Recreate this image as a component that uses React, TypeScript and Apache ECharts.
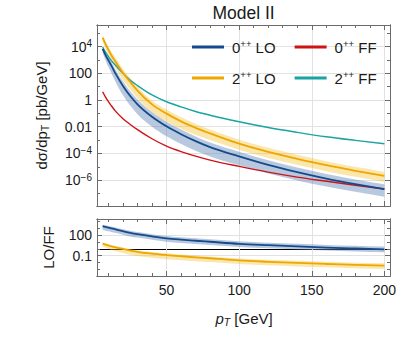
import React, { useEffect, useRef } from 'react';
import * as echarts from 'echarts';

// transverse momentum grid [GeV]
const pT = [6, 8, 10, 12, 15, 20, 25, 30, 40, 50, 60, 70, 80, 100, 120, 140, 160, 180, 200];

// log10 of dσ/dpT [pb/GeV]
const lo0 = [3.82, 3.36, 2.96, 2.57, 1.95, 1.05, 0.3, -0.32, -1.25, -1.97, -2.56, -3.08, -3.53, -4.22, -4.86, -5.4, -5.88, -6.29, -6.66];
const lo0High = [3.97, 3.56, 3.21, 2.85, 2.25, 1.4, 0.65, 0.03, -0.9, -1.62, -2.21, -2.73, -3.18, -3.87, -4.51, -5.05, -5.53, -5.94, -6.31];
const lo0Low = [3.52, 2.96, 2.46, 2.02, 1.33, 0.35, -0.42, -1.06, -2.0, -2.72, -3.29, -3.79, -4.23, -4.89, -5.5, -6.02, -6.48, -6.87, -7.23];
const lo2 = [4.66, 4.18, 3.75, 3.35, 2.85, 2.02, 1.35, 0.7, -0.33, -1.02, -1.6, -2.08, -2.5, -3.27, -3.88, -4.4, -4.88, -5.3, -5.68];
const lo2High = [4.86, 4.4, 4.0, 3.62, 3.15, 2.32, 1.65, 1.0, -0.03, -0.72, -1.3, -1.78, -2.2, -2.97, -3.58, -4.1, -4.58, -5.0, -5.38];
const lo2Low = [4.36, 3.83, 3.35, 2.9, 2.35, 1.47, 0.78, 0.13, -0.9, -1.59, -2.15, -2.6, -3.0, -3.72, -4.33, -4.85, -5.33, -5.75, -6.13];
const ff0 = [0.62, 0.22, -0.13, -0.43, -0.85, -1.4, -1.83, -2.22, -2.9, -3.45, -3.86, -4.2, -4.5, -4.97, -5.4, -5.77, -6.08, -6.38, -6.66];
const ff2 = [3.96, 3.58, 3.25, 2.95, 2.58, 2.0, 1.48, 1.08, 0.38, -0.13, -0.52, -0.86, -1.14, -1.63, -2.06, -2.42, -2.75, -3.02, -3.27];

// log10 of LO/FF
const ratio0 = [3.3, 3.18, 3.07, 2.97, 2.82, 2.55, 2.3, 2.12, 1.8, 1.52, 1.33, 1.17, 1.02, 0.72, 0.52, 0.34, 0.18, 0.05, -0.07];
const ratio0High = [3.5, 3.4, 3.31, 3.23, 3.09, 2.83, 2.6, 2.42, 2.12, 1.85, 1.67, 1.52, 1.37, 1.08, 0.89, 0.72, 0.56, 0.44, 0.32];
const ratio0Low = [2.75, 2.63, 2.53, 2.44, 2.3, 2.05, 1.8, 1.63, 1.32, 1.04, 0.86, 0.71, 0.56, 0.27, 0.07, -0.1, -0.26, -0.38, -0.5];
const ratio2 = [0.74, 0.6, 0.48, 0.36, 0.2, -0.02, -0.25, -0.43, -0.7, -0.9, -1.07, -1.23, -1.37, -1.68, -1.88, -2.05, -2.2, -2.34, -2.45];
const ratio2High = [0.93, 0.8, 0.68, 0.56, 0.4, 0.18, -0.04, -0.21, -0.47, -0.66, -0.82, -0.97, -1.1, -1.4, -1.58, -1.74, -1.88, -2.01, -2.11];
const ratio2Low = [0.31, 0.14, -0.02, -0.16, -0.35, -0.6, -0.85, -1.03, -1.3, -1.5, -1.65, -1.79, -1.92, -2.2, -2.38, -2.55, -2.69, -2.82, -2.93];

// ticks
const xMajor = [50, 100, 150, 200];
const xMinor = [10, 20, 30, 40, 60, 70, 80, 90, 110, 120, 130, 140, 160, 170, 180, 190];
const yTopMajor = [-6, -4, -2, 0, 2, 4];
const yTopMinor = [-7, -5, -3, -1, 1, 3, 5];
const yBotMajor = [-1, 2];
const yBotMinor = [-3, -2, 0, 1, 3, 4];
const ratioOne = [0];
const topTickLabels: Record<string, string> = {
  '4': '{b|10}{s|4}',
  '2': '100',
  '0': '1',
  '-2': '0.01',
  '-4': '{b|10}{s|\u22124}',
  '-6': '{b|10}{s|\u22126}',
};
const botTickLabels: Record<string, string> = { '2': '100', '-1': '0.1' };

const FONT = '"Liberation Sans", Arial, Helvetica, sans-serif';
const TEXT = '#1a1a1a';
const FRAME = '#6b6b6b';
const GRIDC = '#e2e2e2';
const BLUE = '#154b8c';
const ORANGE = '#eea600';
const RED = '#cc1418';
const TEAL = '#1aa3a3';
const BLUE_BAND = 'rgba(98,136,184,0.45)';
const ORANGE_BAND = 'rgba(244,188,36,0.38)';

const X_MIN = 2.12, X_MAX = 203.88;
const TOP_MIN = -7.93, TOP_MAX = 5.61;
const BOT_MIN = -3.94, BOT_MAX = 4.32;

const tickRich = {
  b: { fontSize: 14, fontFamily: FONT, color: TEXT, lineHeight: 16 },
  s: { fontSize: 10, fontFamily: FONT, color: TEXT, lineHeight: 10, verticalAlign: 'top' },
};

function frameAxis(o: any) {
  return {
    type: 'value',
    gridIndex: o.gridIndex,
    position: o.position,
    min: o.min,
    max: o.max,
    axisLine: { show: o.hideLine ? false : true, onZero: false, lineStyle: { color: FRAME, width: 1 } },
    axisTick: { show: o.len > 0, inside: true, length: o.len, customValues: o.ticks, lineStyle: { color: FRAME, width: 1 } },
    axisLabel: o.labelValues
      ? { show: true, customValues: o.labelValues, formatter: o.fmt, margin: o.margin, color: TEXT, fontSize: 14, fontFamily: FONT, rich: tickRich }
      : { show: false },
    splitLine: { show: !!o.split, lineStyle: o.splitStyle || { color: GRIDC, width: 1 } },
    minorTick: { show: false },
    minorSplitLine: { show: false },
  };
}

// cubic Hermite spline through pixel points (x monotone), as SVG path commands
function spline(pts: number[][], cmd: string) {
  const n = pts.length;
  const h: number[] = [];
  const d: number[] = [];
  for (let i = 0; i < n - 1; i++) {
    h.push(pts[i + 1][0] - pts[i][0]);
    d.push((pts[i + 1][1] - pts[i][1]) / h[i]);
  }
  const m: number[] = new Array(n).fill(0);
  for (let i = 1; i < n - 1; i++) {
    m[i] = (h[i] * d[i - 1] + h[i - 1] * d[i]) / (h[i - 1] + h[i]);
  }
  m[0] = 2 * d[0] - m[1];
  if (Math.sign(m[0]) !== Math.sign(d[0])) m[0] = d[0];
  m[n - 1] = 2 * d[n - 2] - m[n - 2];
  if (Math.sign(m[n - 1]) !== Math.sign(d[n - 2])) m[n - 1] = d[n - 2];
  let s = `${cmd}${pts[0][0]},${pts[0][1]}`;
  for (let i = 0; i < n - 1; i++) {
    const k = h[i] / 3;
    const c1x = pts[i][0] + k;
    const c1y = pts[i][1] + m[i] * k;
    const c2x = pts[i + 1][0] - k;
    const c2y = pts[i + 1][1] - m[i + 1] * k;
    s += `C${c1x},${c1y},${c2x},${c2y},${pts[i + 1][0]},${pts[i + 1][1]}`;
  }
  return s;
}

function band(name: string, lo: number[], hi: number[], fill: string, xi: number, yi: number) {
  return {
    type: 'custom',
    name,
    xAxisIndex: xi,
    yAxisIndex: yi,
    silent: true,
    z: 2,
    itemStyle: { color: fill },
    data: pT.map((x, i) => [x, lo[i], hi[i]]),
    encode: { x: 0, y: [1, 2] },
    renderItem: (params: any, api: any) => {
      if (params.dataIndex !== 0) return null;
      const top = pT.map((x, i) => api.coord([x, hi[i]]));
      const bot = pT.map((x, i) => api.coord([x, lo[i]])).reverse();
      return {
        type: 'path',
        shape: { pathData: spline(top, 'M') + spline(bot, 'L') + 'Z' },
        style: { fill, stroke: null },
      };
    },
  };
}

function curve(name: string, vals: number[], color: string, width: number, xi: number, yi: number) {
  return {
    type: 'custom',
    name,
    xAxisIndex: xi,
    yAxisIndex: yi,
    silent: true,
    z: 3,
    itemStyle: { color },
    data: pT.map((x, i) => [x, vals[i]]),
    encode: { x: 0, y: 1 },
    renderItem: (params: any, api: any) => {
      if (params.dataIndex !== 0) return null;
      const pts = pT.map((x, i) => api.coord([x, vals[i]]));
      return {
        type: 'path',
        shape: { pathData: spline(pts, 'M') },
        style: { fill: null, stroke: color, lineWidth: width, lineJoin: 'round', lineCap: 'butt' },
      };
    },
  };
}

const legendFmt = (name: string) => {
  const [state, kind] = name.split(' ');
  return `{g| }{n|${state.replace('++', '')}}{s|++}{n| ${kind}}`;
};

const legendCommon = {
  orient: 'horizontal',
  icon: 'rect',
  itemWidth: 32,
  itemHeight: 3,
  itemGap: 19,
  padding: 0,
  selectedMode: false,
  formatter: legendFmt,
  textStyle: {
    fontSize: 15,
    fontFamily: FONT,
    color: TEXT,
    rich: {
      g: { width: 3, fontSize: 15, lineHeight: 18 },
      n: { fontSize: 15, fontFamily: FONT, color: TEXT, lineHeight: 18 },
      s: { fontSize: 9.5, fontFamily: FONT, color: TEXT, lineHeight: 11, verticalAlign: 'top' },
    },
  },
};

const option: any = {
  animation: false,
  backgroundColor: '#ffffff',
  grid: [
    { left: 97, top: 25, width: 293, height: 181 },
    { left: 97, top: 219, width: 293, height: 57 },
  ],
  xAxis: [
    frameAxis({ gridIndex: 0, position: 'bottom', min: X_MIN, max: X_MAX, ticks: xMajor, len: 5, split: true }),
    frameAxis({ gridIndex: 0, position: 'bottom', min: X_MIN, max: X_MAX, ticks: xMinor, len: 3 }),
    frameAxis({ gridIndex: 0, position: 'top', min: X_MIN, max: X_MAX, ticks: xMajor, len: 5 }),
    frameAxis({ gridIndex: 0, position: 'top', min: X_MIN, max: X_MAX, ticks: xMinor, len: 3 }),
    frameAxis({ gridIndex: 1, position: 'bottom', min: X_MIN, max: X_MAX, ticks: xMajor, len: 5, split: true, labelValues: xMajor, fmt: (v: number) => String(v), margin: 7 }),
    frameAxis({ gridIndex: 1, position: 'bottom', min: X_MIN, max: X_MAX, ticks: xMinor, len: 3 }),
    frameAxis({ gridIndex: 1, position: 'top', min: X_MIN, max: X_MAX, ticks: xMajor, len: 5 }),
    frameAxis({ gridIndex: 1, position: 'top', min: X_MIN, max: X_MAX, ticks: xMinor, len: 3 }),
  ],
  yAxis: [
    frameAxis({ gridIndex: 0, position: 'left', min: TOP_MIN, max: TOP_MAX, ticks: yTopMajor, len: 5, split: true, labelValues: yTopMajor, fmt: (v: number) => topTickLabels[String(v)] ?? '', margin: 5 }),
    frameAxis({ gridIndex: 0, position: 'left', min: TOP_MIN, max: TOP_MAX, ticks: yTopMinor, len: 3 }),
    frameAxis({ gridIndex: 0, position: 'right', min: TOP_MIN, max: TOP_MAX, ticks: yTopMajor, len: 5 }),
    frameAxis({ gridIndex: 0, position: 'right', min: TOP_MIN, max: TOP_MAX, ticks: yTopMinor, len: 3 }),
    frameAxis({ gridIndex: 1, position: 'left', min: BOT_MIN, max: BOT_MAX, ticks: yBotMajor, len: 5, split: true, labelValues: yBotMajor, fmt: (v: number) => botTickLabels[String(v)] ?? '', margin: 5 }),
    frameAxis({ gridIndex: 1, position: 'left', min: BOT_MIN, max: BOT_MAX, ticks: yBotMinor, len: 3 }),
    frameAxis({ gridIndex: 1, position: 'right', min: BOT_MIN, max: BOT_MAX, ticks: yBotMajor, len: 5 }),
    frameAxis({ gridIndex: 1, position: 'right', min: BOT_MIN, max: BOT_MAX, ticks: yBotMinor, len: 3 }),
    // ratio = 1 reference line
    frameAxis({ gridIndex: 1, position: 'left', min: BOT_MIN, max: BOT_MAX, ticks: ratioOne, len: 0, hideLine: true, split: true, splitStyle: { color: '#000000', width: 1.2 } }),
  ],
  legend: [
    { ...legendCommon, data: ['0++ LO', '0++ FF'], left: 192, top: 38 },
    { ...legendCommon, data: ['2++ LO', '2++ FF'], left: 192, top: 69 },
  ],
  graphic: [
    {
      type: 'text', x: 243.5, y: 12.5, silent: true,
      style: { text: 'Model II', fontSize: 17.5, fontFamily: FONT, fill: TEXT, align: 'center', verticalAlign: 'middle' },
    },
    {
      type: 'text', x: 244, y: 318, silent: true,
      style: {
        text: '{i|p}{t|T}{m| [GeV]}', align: 'center', verticalAlign: 'middle', fill: TEXT,
        rich: {
          i: { fontSize: 15, fontStyle: 'italic', fontFamily: FONT, fill: TEXT, lineHeight: 18 },
          t: { fontSize: 10.5, fontStyle: 'italic', fontFamily: FONT, fill: TEXT, lineHeight: 11, verticalAlign: 'bottom' },
          m: { fontSize: 15, fontFamily: FONT, fill: TEXT, lineHeight: 18 },
        },
      },
    },
    {
      type: 'text', x: 41, y: 115.5, rotation: Math.PI / 2, silent: true,
      style: {
        text: '{m|d\u03c3/dp}{t|T}{m| [pb/GeV]}', align: 'center', verticalAlign: 'middle', fill: TEXT,
        rich: {
          t: { fontSize: 10.5, fontFamily: FONT, fill: TEXT, lineHeight: 11, verticalAlign: 'bottom' },
          m: { fontSize: 15, fontFamily: FONT, fill: TEXT, lineHeight: 18 },
        },
      },
    },
    {
      type: 'text', x: 48.5, y: 247.5, rotation: Math.PI / 2, silent: true,
      style: { text: 'LO/FF', fontSize: 15, fontFamily: FONT, fill: TEXT, align: 'center', verticalAlign: 'middle' },
    },
  ],
  series: [
    band('0++ LO band', lo0Low, lo0High, BLUE_BAND, 0, 0),
    band('2++ LO band', lo2Low, lo2High, ORANGE_BAND, 0, 0),
    curve('0++ FF', ff0, RED, 1.4, 0, 0),
    curve('2++ FF', ff2, TEAL, 1.4, 0, 0),
    curve('0++ LO', lo0, BLUE, 1.8, 0, 0),
    curve('2++ LO', lo2, ORANGE, 1.8, 0, 0),
    band('0++ ratio band', ratio0Low, ratio0High, BLUE_BAND, 4, 4),
    band('2++ ratio band', ratio2Low, ratio2High, ORANGE_BAND, 4, 4),
    curve('0++ LO/FF', ratio0, BLUE, 1.8, 4, 4),
    curve('2++ LO/FF', ratio2, ORANGE, 1.8, 4, 4),
  ],
};

export default function App() {
  const ref = useRef<HTMLDivElement>(null);
  useEffect(() => {
    const chart = echarts.init(ref.current as HTMLDivElement, null, { renderer: 'svg' });
    chart.setOption(option);
    return () => chart.dispose();
  }, []);
  return (
    <div
      ref={ref}
      style={{ position: 'fixed', left: 0, top: 0, width: 407, height: 346, background: '#fff' }}
    />
  );
}
